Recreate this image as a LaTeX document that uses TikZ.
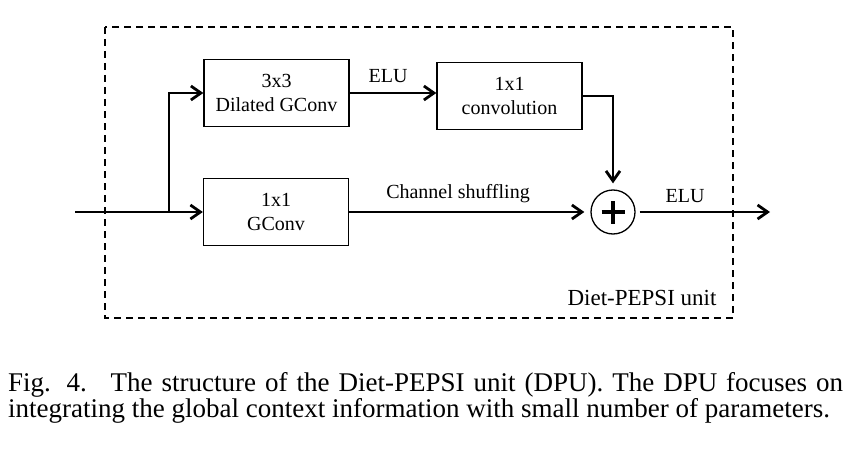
\documentclass[tikz,border=0pt]{standalone}
\usepackage{fontspec}
\setmainfont{Liberation Serif}
\usetikzlibrary{arrows.meta}

\tikzset{
  blk/.style={draw, line width=1.3pt, minimum width=145pt, minimum height=67pt,
    align=center, font=\fontsize{20}{24.5}\selectfont},
  flow/.style={->, line width=2.8pt},
  lbl/.style={font=\fontsize{20}{23}\selectfont},
  frame/.style={line width=1.3pt, dash pattern=on 7pt off 5pt},
}

\begin{document}
\begin{tikzpicture}[x=1pt,y=-1pt,>={Straight Barb[length=10pt,width=14pt]},
    line join=miter]
  \useasboundingbox (0,0) rectangle (868,452);
  % dashed unit frame
  \draw[frame] (105,27) rectangle (733,318);
  \node[lbl, anchor=base, font=\fontsize{23}{26}\selectfont] (unit) at (642,305) {Diet-PEPSI unit};

  % blocks
  \node[blk] (dil) at (276.5,93) {3x3\\Dilated GConv};
  \node[blk] (gconv) at (276,212) {1x1\\GConv};
  \node[blk] (conv) at (509.5,96) {1x1\\convolution};
  \node[draw, circle, line width=1.3pt, minimum size=44pt, inner sep=0pt] (add) at (613,212) {};
  \draw[line width=4.4pt] ([xshift=-11.5pt]add.center) -- ([xshift=11.5pt]add.center);
  \draw[line width=4.4pt] ([yshift=-11.5pt]add.center) -- ([yshift=11.5pt]add.center);

  \coordinate (in) at (75,212);
  \coordinate (split) at (169,212);
  \coordinate (out) at (770,212);

  % connections
  \draw[flow] (in) -- (gconv.west);
  \draw[flow] (split) |- (dil.west);
  \draw[flow] (dil.east) -- (dil.east -| conv.west);
  \draw[flow, shorten >=6pt] (conv.east) -| (add.north);
  \draw[flow, shorten >=6pt] (gconv.east) -- (add.west);
  \draw[flow, shorten <=4pt] (add.east) -- (out);

  \node[lbl] (elu1) at (388,76) {ELU};
  \node[lbl] (shuf) at (458,194) {Channel shuffling};
  \node[lbl] (elu2) at (685,196) {ELU};

  % caption
  \node[anchor=base west, inner sep=0pt, font=\fontsize{27}{27}\selectfont] (cap1) at (8,391)
    {\makebox[835pt][s]{Fig. 4.\hspace{0.3em} The structure of the Diet-PEPSI unit (DPU). The DPU focuses on}};
  \node[anchor=base west, inner sep=0pt, font=\fontsize{27}{27}\selectfont] (cap2) at (8,417)
    {integrating the global context information with small number of parameters.};
\end{tikzpicture}
\end{document}
